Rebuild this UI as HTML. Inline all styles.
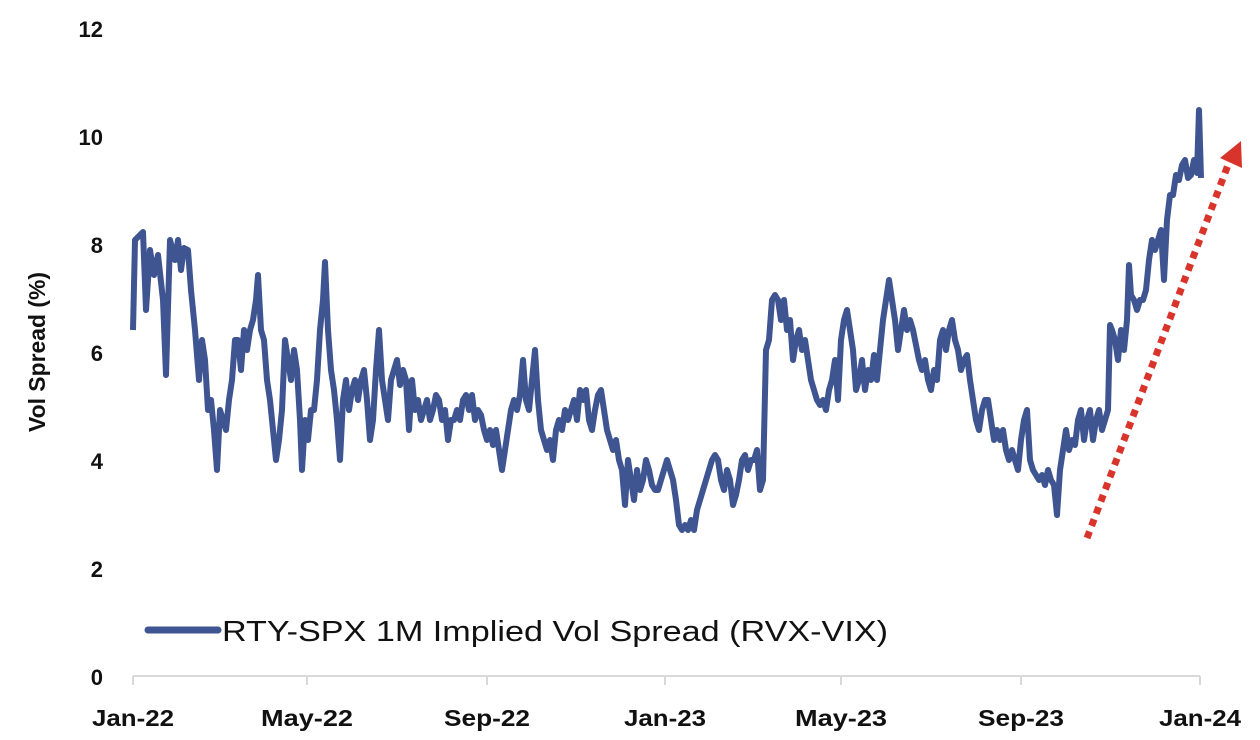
<!DOCTYPE html>
<html><head><meta charset="utf-8"><style>
body{margin:0;background:#fff;width:1260px;height:735px;overflow:hidden}
text{font-family:"Liberation Sans",sans-serif;font-weight:bold;fill:#111}
</style></head><body>
<svg width="1260" height="735" viewBox="0 0 1260 735">
<g font-size="22" text-anchor="end">
<text x="103" y="37">12</text><text x="103" y="145">10</text><text x="103" y="253">8</text>
<text x="103" y="361">6</text><text x="103" y="469">4</text><text x="103" y="577">2</text><text x="103" y="685">0</text>
</g>
<text transform="translate(45,352) rotate(-90)" font-size="23" text-anchor="middle" textLength="160" lengthAdjust="spacingAndGlyphs">Vol Spread (%)</text>
<line x1="133" y1="676" x2="1200" y2="676" stroke="#d9d9d9" stroke-width="2"/>
<g stroke="#d9d9d9" stroke-width="2">
<line x1="133" y1="676" x2="133" y2="685"/><line x1="307" y1="676" x2="307" y2="685"/><line x1="487" y1="676" x2="487" y2="685"/><line x1="665" y1="676" x2="665" y2="685"/><line x1="841" y1="676" x2="841" y2="685"/><line x1="1021" y1="676" x2="1021" y2="685"/><line x1="1200" y1="676" x2="1200" y2="685"/>
</g>
<g font-size="23" text-anchor="middle" lengthAdjust="spacingAndGlyphs">
<text x="133" y="726" textLength="82" lengthAdjust="spacingAndGlyphs">Jan-22</text><text x="307" y="726" textLength="92" lengthAdjust="spacingAndGlyphs">May-22</text><text x="487" y="726" textLength="86" lengthAdjust="spacingAndGlyphs">Sep-22</text><text x="665" y="726" textLength="82" lengthAdjust="spacingAndGlyphs">Jan-23</text><text x="841" y="726" textLength="92" lengthAdjust="spacingAndGlyphs">May-23</text><text x="1021" y="726" textLength="86" lengthAdjust="spacingAndGlyphs">Sep-23</text><text x="1200" y="726" textLength="82" lengthAdjust="spacingAndGlyphs">Jan-24</text>
</g>
<line x1="148" y1="630" x2="218" y2="630" stroke="#3F5592" stroke-width="7" stroke-linecap="round"/>
<text x="222" y="641" font-size="29" style="font-weight:normal" textLength="666" lengthAdjust="spacingAndGlyphs">RTY-SPX 1M Implied Vol Spread (RVX-VIX)</text>
<line x1="1087" y1="538" x2="1228" y2="165" stroke="#D9342B" stroke-width="7" stroke-dasharray="7,6"/>
<polygon points="1241,141 1220,158 1242,168" fill="#D9342B"/>
<polyline fill="none" stroke="#3F5592" stroke-width="6" stroke-linejoin="round" points="133,330 135,240 140,235 143,232 146,310 150,250 154,275 158,255 163,300 166,375 170,240 175,260 178,240 181,270 184,248 188,250 191,290 195,330 199,380 202,340 205,360 208,410 211,400 214,430 217,470 220,410 223,420 226,430 229,400 232,380 235,340 238,340 241,370 244,330 247,350 250,330 253,320 256,300 258,275 261,330 264,340 267,380 270,400 273,430 276,460 279,440 282,410 285,340 288,360 291,380 294,350 297,370 300,420 302,470 305,420 308,440 311,410 314,410 317,380 320,330 323,300 325,262 328,330 331,370 334,390 337,420 340,460 343,400 346,380 349,410 352,390 355,380 358,400 361,380 364,370 367,400 370,440 373,420 376,370 379,330 382,380 385,400 388,420 391,380 394,370 397,360 400,385 403,370 406,380 409,430 412,380 415,410 418,400 421,420 424,410 427,400 430,420 433,410 436,395 439,400 442,420 445,410 448,440 451,420 454,420 457,410 460,420 463,400 466,395 469,410 472,395 475,420 478,410 481,415 484,430 487,440 490,430 493,445 496,430 499,450 502,470 505,450 508,430 511,410 514,400 517,410 520,395 523,360 526,400 529,410 532,380 535,350 538,400 541,430 544,440 547,450 550,440 553,460 556,430 559,420 562,430 565,410 568,420 571,410 574,400 577,420 580,390 583,400 586,390 589,420 592,430 595,410 598,395 601,390 604,410 607,430 610,440 613,450 616,440 619,460 622,470 625,505 628,460 631,480 634,500 637,470 640,490 643,480 646,460 649,470 652,485 655,490 658,490 661,480 664,470 667,460 670,470 673,480 676,500 679,525 682,530 685,525 688,530 691,520 694,530 697,510 700,500 703,490 706,480 709,470 712,460 715,455 718,460 721,480 724,490 727,470 730,480 733,505 736,495 739,480 742,460 745,455 748,470 751,460 754,460 757,450 760,490 763,480 766,350 769,340 772,300 775,295 778,300 781,320 784,300 787,330 790,320 793,360 796,340 799,330 802,350 805,340 808,360 811,380 814,390 817,400 820,405 823,400 826,410 829,390 832,380 835,360 838,400 841,340 844,320 847,310 850,330 853,350 856,390 859,380 862,360 865,390 868,370 871,380 874,355 877,380 880,350 883,320 886,300 889,280 892,300 895,320 898,350 901,330 904,310 907,330 910,320 913,330 916,345 919,360 922,370 925,360 928,380 931,390 934,370 937,380 940,340 943,330 946,350 949,330 952,320 955,340 958,350 961,370 964,360 967,355 970,380 973,400 976,420 979,430 982,410 985,400 988,400 991,420 994,440 997,430 1000,440 1003,430 1006,450 1009,460 1012,450 1015,460 1018,470 1021,440 1024,420 1027,410 1030,460 1033,470 1036,475 1039,480 1042,475 1045,485 1048,470 1051,480 1054,485 1057,515 1060,470 1063,450 1066,430 1069,450 1072,440 1075,445 1078,420 1081,410 1084,440 1087,420 1090,410 1093,440 1096,420 1099,410 1102,430 1105,420 1108,410 1110,325 1112,330 1115,340 1118,360 1121,330 1124,350 1127,320 1129,265 1131,295 1134,300 1137,310 1140,300 1143,300 1146,290 1149,260 1152,240 1155,250 1158,240 1161,230 1164,280 1167,220 1170,195 1173,195 1176,175 1179,180 1182,165 1185,160 1188,178 1191,175 1194,160 1197,173 1199,110 1201,178"/>
</svg>
</body></html>
